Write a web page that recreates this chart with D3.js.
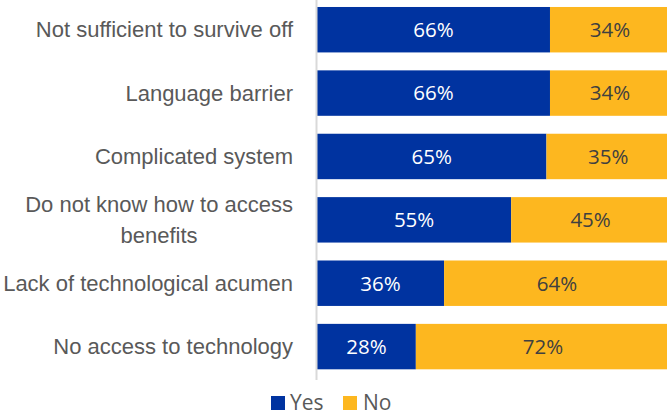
<!DOCTYPE html>
<html>
<head>
<meta charset="utf-8">
<script src="https://cdn.jsdelivr.net/npm/d3@7"></script>
<style>
  html, body { margin: 0; padding: 0; background: #fff; }
  svg { display: block; font-family: "Open Sans", Lato, sans-serif; }
</style>
</head>
<body>
<svg id="chart" width="667" height="414"></svg>
<script>
// Barriers to accessing benefits: share answering Yes / No
const categories = [
  "Not sufficient to survive off",
  "Language barrier",
  "Complicated system",
  "Do not know how to access benefits",
  "Lack of technological acumen",
  "No access to technology"
];
const yesValues = [66, 66, 65, 55, 36, 28];
const noValues  = [34, 34, 35, 45, 64, 72];
const seriesNames = ["Yes", "No"];
const seriesColors = ["#0033A0", "#FDB71F"];
const labelColors = ["#FFFFFF", "#404040"];
// label line breaks for long categories
const categoryLines = {
  "Do not know how to access benefits": ["Do not know how to access", "benefits"]
};

const svg = d3.select("#chart");
const margin = { left: 317, right: -3 };
const W = 667;

const rows = categories.map((c, i) => ({ cat: c, Yes: yesValues[i], No: noValues[i] }));
const stack = d3.stack().keys(seriesNames)(rows);

const x = d3.scaleLinear().domain([0, 100]).range([margin.left, W - margin.right]);
const y = d3.scaleBand().domain(categories)
  .range([0.65, 375.65]).paddingInner(0.283).paddingOuter(0.1);

// bars
const layers = svg.append("g").selectAll("g").data(stack).join("g")
  .attr("fill", (d, i) => seriesColors[i]);

layers.selectAll("rect").data(d => d).join("rect")
  .attr("x", d => x(d[0]))
  .attr("y", d => y(d.data.cat))
  .attr("width", d => x(d[1]) - x(d[0]))
  .attr("height", y.bandwidth());

// value labels
layers.each(function (layer, li) {
  d3.select(this).selectAll("text").data(layer).join("text")
    .attr("x", d => (x(d[0]) + x(d[1])) / 2)
    .attr("y", d => y(d.data.cat) + y.bandwidth() / 2)
    .attr("dy", "0.36em")
    .attr("text-anchor", "middle")
    .attr("font-size", 20.5)
    .attr("fill", labelColors[li])
    .text(d => (d[1] - d[0]) + "%");
});

// category axis
const yAxis = d3.axisLeft(y).tickSize(0).tickPadding(0);
const gy = svg.append("g")
  .attr("transform", `translate(${margin.left - 0.5},0)`)
  .call(yAxis);
gy.select(".domain").remove();
gy.selectAll(".tick text").remove();
gy.append("line")
  .attr("x1", 0).attr("x2", 0).attr("y1", 0).attr("y2", 380)
  .attr("stroke", "#D9D9D9").attr("stroke-width", 2);

const labelRight = -23.5;
gy.selectAll(".tick").each(function (cat) {
  const lines = categoryLines[cat] || [cat];
  const t = d3.select(this).append("text")
    .attr("fill", "#595959")
    .attr("font-size", 22);
  const lh = 31;
  const spans = lines.map((ln, k) => t.append("tspan")
    .attr("y", (k - (lines.length - 1) / 2) * lh)
    .attr("dy", "0.34em")
    .text(ln));
  // lines of a wrapped label are centred on each other, block right-aligned
  const widest = d3.max(spans, s => s.node().getComputedTextLength());
  spans.forEach(s => s.attr("text-anchor", "middle").attr("x", labelRight - widest / 2));
});

// legend
const legend = svg.append("g").attr("transform", "translate(271,396)");
const items = [{ name: "Yes", x: 0, tx: 19 }, { name: "No", x: 72, tx: 92 }];
items.forEach((it, i) => {
  legend.append("rect").attr("x", it.x).attr("y", 0).attr("width", 14).attr("height", 14)
    .attr("fill", seriesColors[i]);
  legend.append("text").attr("x", it.tx).attr("y", 13.5)
    .attr("font-size", 21).attr("fill", "#595959").text(it.name);
});
</script>
</body>
</html>
